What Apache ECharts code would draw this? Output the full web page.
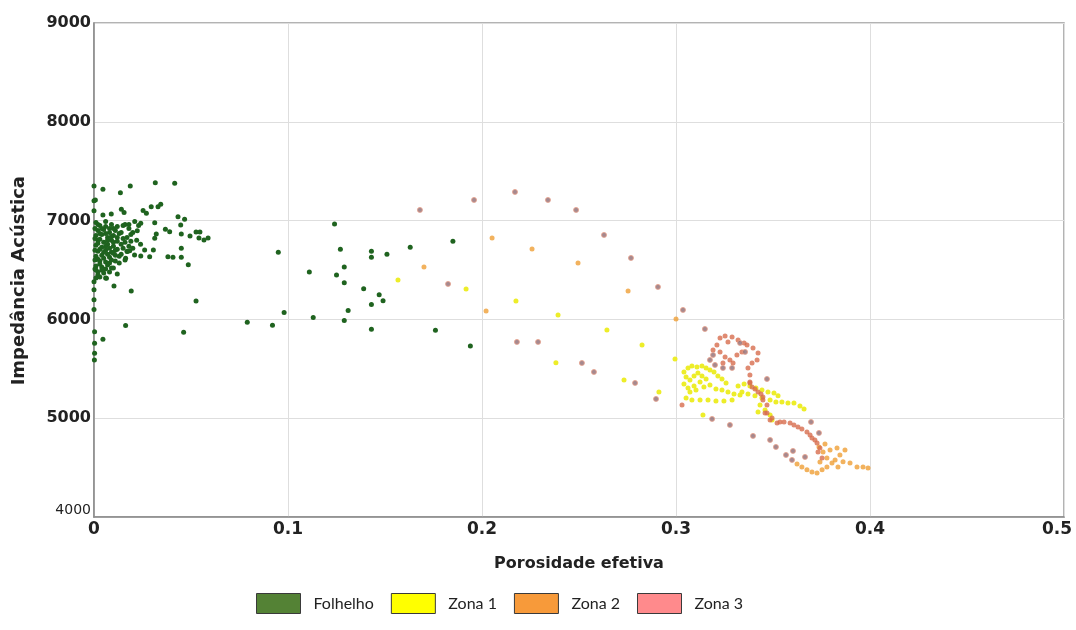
<!DOCTYPE html>
<html>
<head>
<meta charset="utf-8">
<script src="https://cdn.jsdelivr.net/npm/echarts@6/dist/echarts.min.js"></script>
<style>
html,body{margin:0;padding:0;background:#fff;}
#chart{width:1076px;height:630px;}
</style>
</head>
<body>
<div id="chart"></div>
<script>
// ---------- DATA ----------
var seriesNames = ['Folhelho', 'Zona 1', 'Zona 2', 'Zona 3'];
var xTicks = [0, 0.1, 0.2, 0.3, 0.4, 0.5];
var yTicks = [4000, 5000, 6000, 7000, 8000, 9000];

var folhelhoData = [
  [0.0046,7317],[0.0187,7351],[0.0316,7384],[0.0416,7378],[0.0136,7283],[0.0007,7209],
  [0.0089,7067],[0.0046,7057],[0.0141,7115],[0.0155,7081],[0.0253,7101],[0.027,7074],
  [0.0295,7141],[0.033,7141],[0.0344,7165],[0.0433,7040],[0.0467,7014],[0.0241,6973],
  [0.0313,6979],[0.0447,6956],[0.0223,6898],[0.0368,6913],[0.039,6888],[0.0321,6865],
  [0.0313,6821],[0.045,6865],[0.045,6720],[0.045,6629],[0.0381,6635],[0.0407,6629],
  [0.0306,6703],[0.0261,6703],[0.0287,6635],[0.0241,6642],[0.0209,6652],[0.0172,6686],
  [0.0163,6619],[0.0184,6696],[0.0064,6417],[0.0103,6339],[0.0192,6288],[0.0163,5937],
  [0.0046,5799],[0.0462,5870],[0.0003,5876],[0.0003,5759],[0.0003,5658],[0.0002,5590],
  [0.0526,6885],[0.0495,6844],[0.0541,6824],[0.0567,6804],[0.0588,6824],[0.0546,6885],
  [0.0526,6187],[0.0486,6552],
  [0.001,6980],[0.003,6950],[0.006,6990],[0.009,6960],[0.012,6940],[0.002,6900],
  [0.005,6910],[0.008,6880],[0.011,6900],[0.001,6850],[0.004,6860],[0.007,6830],
  [0.010,6850],[0.013,6870],[0.002,6800],[0.005,6780],[0.009,6800],[0.012,6790],
  [0.001,6750],[0.004,6730],[0.007,6760],[0.010,6740],[0.014,6760],[0.002,6690],
  [0.006,6700],[0.009,6680],[0.012,6710],[0.001,6640],[0.004,6650],[0.008,6630],
  [0.011,6650],[0.003,6590],[0.006,6580],[0.009,6600],[0.001,6540],[0.004,6530],
  [0.007,6550],[0.002,6480],[0.005,6470],[0.003,6430],[0.000,6380],[0.000,6300],
  [0.000,6200],[0.000,6100],[0.000,7100],[0.000,7200],[0.000,7350],[0.016,6960],
  [0.018,6920],[0.020,6880],[0.017,6830],[0.019,6790],[0.015,6720],[0.014,6660],
  [0.016,6600],[0.013,6570],[0.021,6990],[0.023,6950],[0.022,6800],[0.024,6760],
  [0.018,6740],[0.010,6520],[0.008,6480],[0.006,6420],[0.012,6460],[0.017,6690],
  [0.002,6960],[0.004,6920],[0.006,6940],[0.008,6920],[0.010,6920],[0.003,6870],
  [0.006,6870],[0.009,6840],[0.012,6830],[0.003,6810],[0.007,6800],[0.010,6780],
  [0.002,6770],[0.006,6740],[0.008,6720],[0.011,6700],[0.003,6710],[0.005,6680],
  [0.007,6660],[0.010,6670],[0.002,6610],[0.005,6620],[0.008,6570],[0.011,6590],
  [0.003,6560],[0.006,6510],[0.009,6520],[0.001,6500],[0.004,6500],[0.002,6450],
  [0.0005,6920],[0.0005,6820],[0.0005,6700],[0.0005,6600],[0.0005,6510],[0.001,6420],
  [0.014,6880],[0.015,6820],[0.013,6640],[0.015,6950],[0.019,6860],[0.016,6780],
  [0.020,6720],[0.018,6960],
  [0.124,6965],[0.095,6680],[0.127,6710],[0.143,6690],[0.143,6630],[0.151,6660],
  [0.163,6730],[0.185,6790],[0.129,6530],[0.111,6480],[0.125,6450],[0.129,6370],
  [0.139,6310],[0.147,6250],[0.149,6190],[0.143,6150],[0.131,6090],[0.098,6070],
  [0.113,6020],[0.129,5990],[0.079,5970],[0.092,5940],[0.143,5900],[0.176,5890],
  [0.194,5730]
];

var zona1Data = [
  [0.1567,6399],[0.1918,6308],[0.2175,6187],[0.2392,6045],[0.2381,5560],[0.2644,5893],
  [0.2825,5742],[0.2732,5387],[0.2912,5266],[0.2995,5600],[0.3139,5033],[0.3608,5155],
  [0.3041,5468],[0.3062,5509],[0.3082,5529],[0.3108,5519],[0.3134,5529],[0.3155,5509],
  [0.3175,5489],[0.3196,5468],[0.3216,5428],[0.3237,5397],[0.3258,5357],[0.3052,5418],
  [0.3072,5387],[0.3093,5428],[0.3113,5458],[0.3134,5428],[0.3155,5397],[0.3124,5367],
  [0.3093,5327],[0.3062,5306],[0.3041,5347],[0.3072,5266],[0.3103,5286],[0.3144,5317],
  [0.3175,5337],[0.3206,5296],[0.3237,5286],[0.3268,5266],[0.3299,5246],[0.333,5236],
  [0.3052,5205],[0.3082,5185],[0.3124,5185],[0.3165,5185],[0.3206,5175],[0.3247,5175],
  [0.3289,5185],
  [0.332,5327],[0.3351,5347],[0.3381,5327],[0.3412,5306],[0.3443,5286],[0.3474,5266],
  [0.3505,5256],[0.3526,5226],[0.334,5266],[0.3371,5246],[0.3407,5226],[0.3443,5205],
  [0.3485,5185],[0.3515,5165],[0.3546,5165],[0.3577,5155],[0.3639,5124],[0.366,5094],
  [0.3433,5134],[0.3459,5084],[0.3485,5033],[0.3495,4983],[0.3423,5064]
];

var zona2Data = [
  [0.1701,6531],[0.2021,6086],[0.2052,6824],[0.2258,6713],[0.2495,6571],[0.2753,6288],
  [0.3,6005],
  [0.3624,4537],[0.3649,4507],[0.3675,4477],[0.3701,4456],[0.3727,4446],[0.3753,4477],
  [0.3778,4507],[0.3737,4709],[0.3758,4659],[0.3794,4679],[0.383,4699],[0.3845,4628],
  [0.382,4578],[0.3861,4558],[0.3897,4547],[0.3933,4507],[0.3964,4507],[0.3778,4598],
  [0.3742,4557],[0.3804,4547],[0.3835,4507],[0.3768,4740],[0.3871,4679],[0.399,4497]
];

var zona3TrailData = [
  [0.3211,5742],[0.3227,5812],[0.3253,5833],[0.3289,5823],[0.332,5792],[0.3366,5742],
  [0.3397,5711],[0.3423,5661],[0.3418,5590],[0.3392,5559],[0.3371,5509],[0.3381,5438],
  [0.3381,5367],[0.3392,5317],[0.3423,5266],[0.3448,5215],[0.3469,5134],[0.3469,5053],
  [0.3485,4983],[0.3521,4952],[0.3588,4952],[0.3629,4912],[0.3675,4861],[0.3701,4800],
  [0.3727,4750],[0.3742,4699],[0.3753,4598],
  [0.3227,5671],[0.3253,5620],[0.3278,5590],[0.3314,5640],[0.334,5671],[0.3242,5559],
  [0.3294,5559],[0.3191,5691],[0.3268,5772],[0.3351,5762],
  [0.3381,5357],[0.3448,5185],[0.3459,5053],[0.3495,5003],[0.3536,4962],
  [0.3407,5296],[0.3438,5246],[0.3557,4962],[0.3608,4932],[0.3649,4891],[0.3691,4831],
  [0.3716,4780],[0.3732,4659],[0.3031,5134]
];

var zona3DotsData = [
  [0.168,7108],[0.1959,7209],[0.217,7290],[0.234,7209],[0.2485,7108],[0.2629,6855],
  [0.2768,6622],[0.2907,6329],[0.3036,6096],[0.3149,5903],[0.1825,6359],[0.218,5772],
  [0.2289,5772],[0.2515,5559],[0.2577,5468],[0.2789,5357],[0.2897,5195],[0.3186,4993],
  [0.3278,4932],[0.3397,4821],[0.3485,4780],[0.3515,4709],[0.3567,4628],[0.3603,4669],
  [0.3598,4578],[0.3665,4608],[0.3696,4962],[0.3737,4851],[0.3469,5397],[0.3191,5640],
  [0.3175,5590],[0.3201,5539],[0.3242,5509],[0.3289,5509],[0.333,5762],[0.3356,5671]
];

// ---------- CHART ----------
var chart = echarts.init(document.getElementById('chart'), null, {renderer: 'canvas'});
var legendColors = ['#548235', '#ffff00', '#f79a3a', '#ff8a8c'];

var option = {
  backgroundColor: '#ffffff',
  animation: false,
  grid: {
    left: 94, right: 12, top: 23, bottom: 113, outerBoundsMode: 'none', containLabel: false,
    show: true, borderColor: '#9a9a9a', borderWidth: 1.5, backgroundColor: 'transparent'
  },
  xAxis: {
    type: 'value', min: xTicks[0], max: xTicks[xTicks.length - 1], interval: 0.1,
    name: 'Porosidade efetiva', nameLocation: 'middle', nameGap: 39,
    nameTextStyle: {fontFamily: 'DejaVu Sans', fontWeight: 'bold', fontSize: 16, color: '#222'},
    axisLine: {show: true, lineStyle: {color: '#8a8a8a', width: 1.5}},
    axisTick: {show: false},
    axisLabel: {
      fontFamily: 'DejaVu Sans', fontWeight: 'bold', fontSize: 17, color: '#222', margin: 4,
      formatter: function (v) {
        var s = String(+v.toFixed(1));
        return v === xTicks[xTicks.length - 1] ? '{e|' + s + '}' : s;
      },
      rich: {e: {fontFamily: 'DejaVu Sans', fontWeight: 'bold', fontSize: 17, color: '#222', padding: [0, 14, 0, 0]}}
    },
    splitLine: {show: true, lineStyle: {color: '#dedede', width: 1}}
  },
  yAxis: {
    type: 'value', min: yTicks[0], max: yTicks[yTicks.length - 1], interval: 1000,
    axisLine: {show: true, lineStyle: {color: '#8a8a8a', width: 1.5}},
    axisTick: {show: false},
    axisLabel: {
      fontFamily: 'DejaVu Sans', fontWeight: 'bold', fontSize: 16, color: '#222', margin: 3,
      formatter: function (v) { return v === yTicks[0] ? '{s|' + v + '}' : String(v); },
      rich: {s: {fontFamily: 'DejaVu Sans', fontSize: 14, fontWeight: 'normal', color: '#222', padding: [0, 0, 14, 0]}}
    },
    splitLine: {show: true, lineStyle: {color: '#dedede', width: 1}}
  },
  legend: {
    top: 588, left: 251, icon: 'rect', itemWidth: 44, itemHeight: 20, itemGap: 17,
    textStyle: {fontFamily: 'Lato', fontSize: 16, color: '#222', padding: [0, 0, 0, 8]},
    itemStyle: {opacity: 1},
    data: seriesNames.map(function (n, i) {
      return {name: n, itemStyle: {color: legendColors[i], borderColor: '#3a3a3a', borderWidth: 1, opacity: 1}};
    })
  },
  graphic: [{
    type: 'text', left: 10, top: 176, rotation: Math.PI / 2,
    style: {text: 'Impedância Acústica', font: 'bold 18px "DejaVu Sans"', fill: '#222'}
  }],
  series: [
    {name: seriesNames[0], type: 'scatter', data: folhelhoData, symbolSize: 5,
     itemStyle: {color: '#1f631f', opacity: 1}},
    {name: seriesNames[1], type: 'scatter', data: zona1Data, symbolSize: 5,
     itemStyle: {color: '#ecec1e', opacity: 0.95}},
    {name: seriesNames[2], type: 'scatter', data: zona2Data, symbolSize: 5,
     itemStyle: {color: '#ef9f36'}},
    {name: seriesNames[3], type: 'scatter', data: zona3TrailData, symbolSize: 5,
     itemStyle: {color: '#d76d4d'}},
    {name: seriesNames[3], type: 'scatter', data: zona3DotsData, symbolSize: 5,
     itemStyle: {color: '#8f6b73', borderColor: '#e8a08a', borderWidth: 1}}
  ]
};
chart.setOption(option);
</script>
</body>
</html>
